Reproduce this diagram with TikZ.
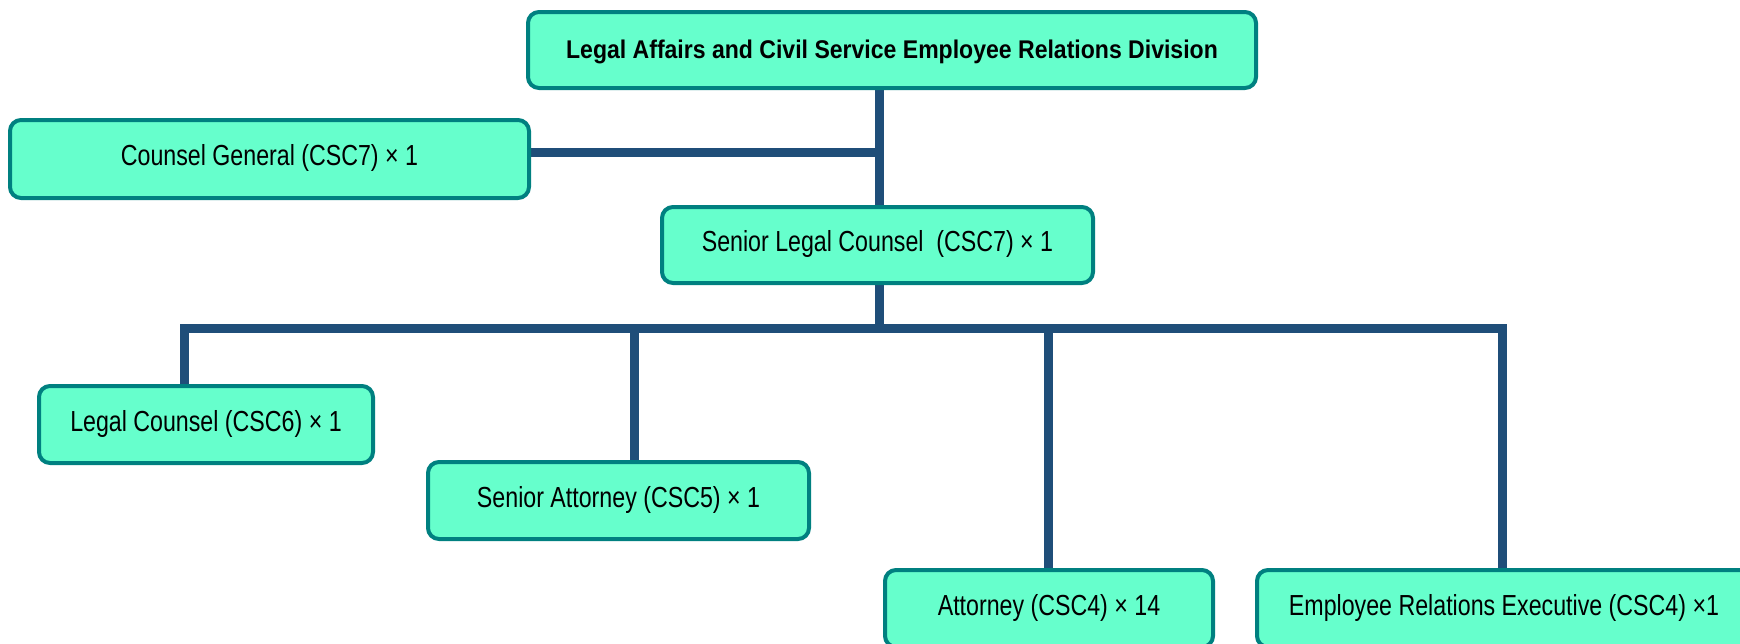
\documentclass[tikz,border=0pt]{standalone}
\usepackage{fontspec}
\setmainfont{Liberation Sans}
\newfontfamily\regfont{Liberation Sans}[FakeStretch=0.8]
\newfontfamily\headfont{Liberation Sans}[FakeStretch=0.9]
\usetikzlibrary{backgrounds}
\definecolor{boxfill}{HTML}{66FFCC}
\definecolor{boxline}{HTML}{008080}
\definecolor{wirecol}{HTML}{1F4E79}
\begin{document}
\begin{tikzpicture}[x=1pt,y=-1pt,
  orgbox/.style={draw=boxline, fill=boxfill, line width=4pt, rounded corners=11pt,
    inner sep=0pt, align=center, text=black, font=\regfont\fontsize{29}{32}\selectfont,
    text height=1.3em, text depth=0pt},
  headbox/.style={orgbox, font=\headfont\bfseries\fontsize{25.6}{28}\selectfont,
    text height=1.62em, text depth=0pt},
  wire/.style={draw=wirecol, line width=9pt, line join=miter}]
\useasboundingbox (0,0) rectangle (1740,643);
\clip (0,0) rectangle (1740,643);

\node[headbox, minimum width=728pt, minimum height=76pt] (div) at (892,50)
  {Legal Affairs and Civil Service Employee Relations Division};
\node[orgbox, minimum width=519pt, minimum height=78pt] (cg) at (269.5,159)
  {Counsel General (CSC7) × 1};
\node[orgbox, minimum width=431pt, minimum height=76pt] (slc) at (877.5,245)
  {Senior Legal Counsel~ (CSC7) × 1};
\node[orgbox, minimum width=334pt, minimum height=77pt] (lc) at (206,424.5)
  {Legal Counsel (CSC6) × 1};
\node[orgbox, minimum width=381pt, minimum height=77pt] (sa) at (618.5,500.5)
  {Senior Attorney (CSC5) × 1};
\node[orgbox, minimum width=328pt, minimum height=77pt] (att) at (1049,608.5)
  {Attorney (CSC4) × 14};
\node[orgbox, minimum width=494pt, minimum height=77pt] (ere) at (1504,608.5)
  {Employee Relations Executive (CSC4) ×1};

\coordinate (t1) at (879.5,152);
\coordinate (bus) at (879.5,328);
\coordinate (busL) at (184.5,328);
\coordinate (busR) at (1502,328);
\coordinate (d2) at (634,328);
\coordinate (d3) at (1048,328);

\begin{scope}[on background layer]
  \draw[wire] (div.south -| t1) -- (slc.north -| t1);
  \draw[wire] (t1) -- (cg.east |- t1);
  \draw[wire] (slc.south -| bus) -- (bus);
  \draw[wire] (lc.north -| busL) -- (busL) -- (busR) -- (ere.north -| busR);
  \draw[wire] (d2) -- (sa.north -| d2);
  \draw[wire] (d3) -- (att.north -| d3);
\end{scope}
\end{tikzpicture}
\end{document}
